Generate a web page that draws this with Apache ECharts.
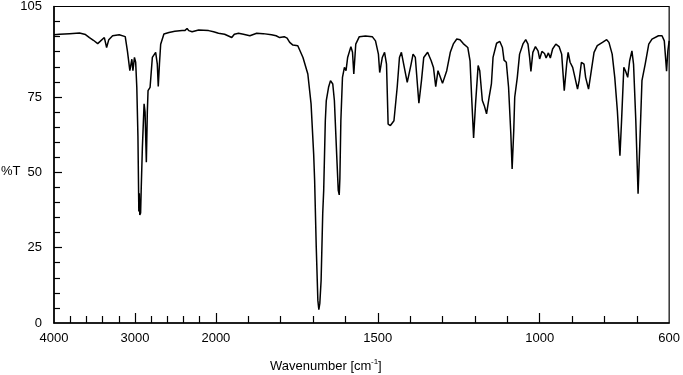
<!DOCTYPE html>
<html>
<head>
<meta charset="utf-8">
<script src="https://cdn.jsdelivr.net/npm/echarts@6/dist/echarts.min.js"></script>
<style>
  html, body { margin: 0; padding: 0; background: #fff; }
  #chart { width: 683px; height: 375px; }
</style>
</head>
<body>
<div id="chart"></div>
<script>
// IR spectrum
var wavenumber = [
	4000, 3930, 3807, 3685, 3611, 3562, 3513, 3460, 3427, 3378, 3350, 3323, 3276, 3194, 3120,
	3092, 3063, 3038, 3025, 3006, 2991, 2977, 2963, 2952, 2946, 2940, 2930, 2922, 2908, 2887,
	2875, 2859, 2847, 2838, 2813, 2785, 2744, 2724, 2712, 2697, 2682, 2642, 2580, 2507, 2417,
	2384, 2356, 2335, 2294, 2213, 2151, 2090, 2028,
	1992, 1973, 1951, 1943, 1930, 1915, 1895, 1874, 1854, 1828, 1814, 1803, 1789, 1780, 1772,
	1762, 1747, 1731, 1716, 1706, 1698, 1695, 1690, 1685, 1682, 1679, 1675, 1670, 1667, 1662,
	1659, 1652, 1646, 1639, 1634, 1627, 1622, 1619, 1617, 1614, 1609, 1603, 1598, 1593, 1583,
	1578, 1574, 1568, 1557, 1538, 1517, 1507, 1498, 1494, 1486, 1479, 1473, 1468, 1461, 1450,
	1440, 1433, 1427, 1420, 1409, 1404, 1397, 1391, 1384, 1373, 1365, 1358, 1346, 1335, 1328,
	1321, 1314, 1309, 1300, 1287, 1276, 1266, 1256, 1246, 1236, 1222, 1215, 1210, 1204, 1198,
	1190, 1185, 1177, 1171, 1164, 1156, 1149, 1144, 1133, 1123, 1115, 1110, 1103, 1096, 1089,
	1085, 1080, 1077, 1069, 1062, 1051, 1043, 1036, 1031, 1027, 1021, 1013, 1005, 1000, 993,
	985, 980, 973, 967, 960, 950, 940, 932, 924, 916, 912, 906, 898, 891, 883,
	878, 871, 863, 858, 849, 842, 832, 822, 806, 793, 786, 776, 768, 760, 752,
	747, 740, 735, 728, 722, 715, 710, 703, 696, 691, 684, 674, 663, 653, 633,
	622, 615, 608, 604, 600
];
var transmittance = [
	95.6, 95.8, 96.0, 96.2, 95.7, 94.7, 93.8, 92.7, 93.5, 94.7, 91.4, 94.0, 95.3, 95.6, 95.0,
	90.0, 83.7, 87.5, 83.7, 88.1, 86.5, 78.2, 62.0, 37.0, 43.0, 35.8, 36.5, 45.0, 58.3, 72.7,
	70.0, 53.3, 70.0, 77.1, 78.2, 88.1, 89.8, 86.0, 78.5, 86.0, 92.5, 95.9, 96.4, 96.8, 97.0,
	97.0, 97.7, 97.0, 96.6, 97.2, 97.1, 97.0, 96.6,
	96.1, 95.8, 94.7, 95.8, 96.1, 95.8, 95.3, 96.1, 96.0, 95.6, 95.3, 94.7, 95.0, 94.5, 93.1,
	92.2, 92.0, 88.1, 82.6, 72.7, 56.1, 47.3, 25.2, 7.5, 4.4, 6.5, 14.1, 36.3, 44.0, 67.1,
	73.8, 78.2, 80.4, 79.3, 73.8, 56.1, 44.0, 42.5, 48.0, 67.1, 81.5, 84.8, 83.7, 88.1, 91.7,
	89.8, 82.6, 92.5, 95.0, 95.2, 95.0, 93.6, 89.2, 83.1, 88.1, 89.8, 85.9, 66.0, 65.5, 67.1,
	78.2, 88.1, 89.8, 85.9, 79.8, 80.4, 85.9, 89.2, 88.1, 72.9, 80.4, 88.1, 89.8, 87.0, 84.8,
	78.4, 83.7, 84.3, 79.5, 83.7, 89.8, 92.7, 94.2, 94.0, 92.7, 91.4, 87.0, 74.9, 61.4, 72.7,
	85.4, 83.7, 73.8, 72.1, 69.4, 74.9, 79.3, 88.1, 92.8, 93.4, 91.4, 87.2, 86.5, 78.2, 62.7,
	51.1, 63.8, 74.9, 81.5, 89.2, 92.7, 94.0, 92.5, 88.1, 83.5, 89.8, 91.7, 90.3, 87.6, 90.1,
	89.4, 87.9, 89.6, 87.9, 90.9, 92.5, 91.7, 89.2, 77.1, 86.5, 89.8, 86.5, 84.8, 81.5, 77.6,
	80.4, 86.5, 85.9, 81.5, 77.6, 82.6, 89.8, 92.0, 93.1, 94.0, 93.1, 89.2, 81.5, 70.5, 55.5,
	67.1, 84.8, 83.7, 81.5, 87.0, 90.3, 85.9, 67.1, 42.9, 58.3, 80.4, 85.9, 92.5, 94.2, 95.3,
	95.3, 93.6, 83.5, 90.3, 93.6
];
var xLabels = [4000, 3000, 2000, 1500, 1000, 600];
var xMajorTicks = [3000, 2000, 1500, 1000];
var xMinorTicks = [3800, 3600, 3400, 3200, 2800, 2600, 2400, 2200,
	1900, 1800, 1700, 1600, 1400, 1300, 1200, 1100, 900, 800, 700];
var yLabels = [0, 25, 50, 75, 105];
var yMajorTicks = [25, 50, 75];
var yMinorTicks = [5, 10, 15, 20, 30, 35, 40, 45, 55, 60, 65, 70, 80, 85, 90, 95, 100];

// x scale is 4x compressed above 2000 cm-1
function wn2u(w) { return w >= 2000 ? (4000 - w) / 4 : 500 + (2000 - w); }
function u2wn(u) { return u <= 500 ? 4000 - u * 4 : 2000 - (u - 500); }

var data = [];
for (var i = 0; i < wavenumber.length; i++)
	data.push([wn2u(wavenumber[i]), transmittance[i]]);

var font = 'Liberation Sans, Arial, sans-serif';

var myChart = echarts.init(document.getElementById('chart'));
var option = {
	animation: false,
	grid: { left: 54, right: 9, top: 6, bottom: 52, show: true, borderColor: '#000', borderWidth: 1.2, backgroundColor: 'transparent' },
	xAxis: [
		{
			type: 'value', min: 0, max: 1900, interval: 50,
			axisLine: { lineStyle: { color: '#000', width: 1.5 } },
			axisTick: { inside: true, length: 7, lineStyle: { color: '#000', width: 1.2 },
				customValues: xMinorTicks.map(wn2u) },
			axisLabel: {
				customValues: xLabels.map(wn2u),
				formatter: function (v) { return Math.round(u2wn(v)); },
				fontFamily: font, fontSize: 13, color: '#000', margin: 9
			},
			splitLine: { show: false }
		},
		{
			type: 'value', min: 0, max: 1900, interval: 50, position: 'bottom',
			axisLine: { show: false },
			axisTick: { inside: true, length: 10, lineStyle: { color: '#000', width: 1.2 },
				customValues: xMajorTicks.map(wn2u) },
			axisLabel: { show: false },
			splitLine: { show: false }
		}
	],
	yAxis: [
		{
			type: 'value', min: 0, max: 105, interval: 5,
			axisLine: { show: true, lineStyle: { color: '#000', width: 1.5 } },
			axisTick: { show: true, inside: true, length: 6, lineStyle: { color: '#000', width: 1.2 },
				customValues: yMinorTicks },
			axisLabel: {
				customValues: yLabels,
				fontFamily: font, fontSize: 13, color: '#000', margin: 12
			},
			splitLine: { show: false }
		},
		{
			type: 'value', min: 0, max: 105, interval: 5, position: 'left',
			axisLine: { show: false },
			axisTick: { show: true, inside: true, length: 8, lineStyle: { color: '#000', width: 1.2 },
				customValues: yMajorTicks },
			axisLabel: { show: false },
			splitLine: { show: false }
		}
	],
	graphic: [
		{ type: 'text', left: 270, top: 360, style: { text: 'Wavenumber [cm', font: '13px ' + font, fill: '#000' } },
		{ type: 'text', left: 371, top: 358, style: { text: '-1', font: '8px ' + font, fill: '#000' } },
		{ type: 'text', left: 378, top: 360, style: { text: ']', font: '13px ' + font, fill: '#000' } },
		{ type: 'text', left: 1, top: 165, style: { text: '%T', font: '13px ' + font, fill: '#000' } }
	],
	series: [{
		type: 'line',
		data: data,
		showSymbol: false,
		lineStyle: { color: '#000', width: 1.5 },
		itemStyle: { color: '#000' }
	}]
};
myChart.setOption(option);
</script>
</body>
</html>
